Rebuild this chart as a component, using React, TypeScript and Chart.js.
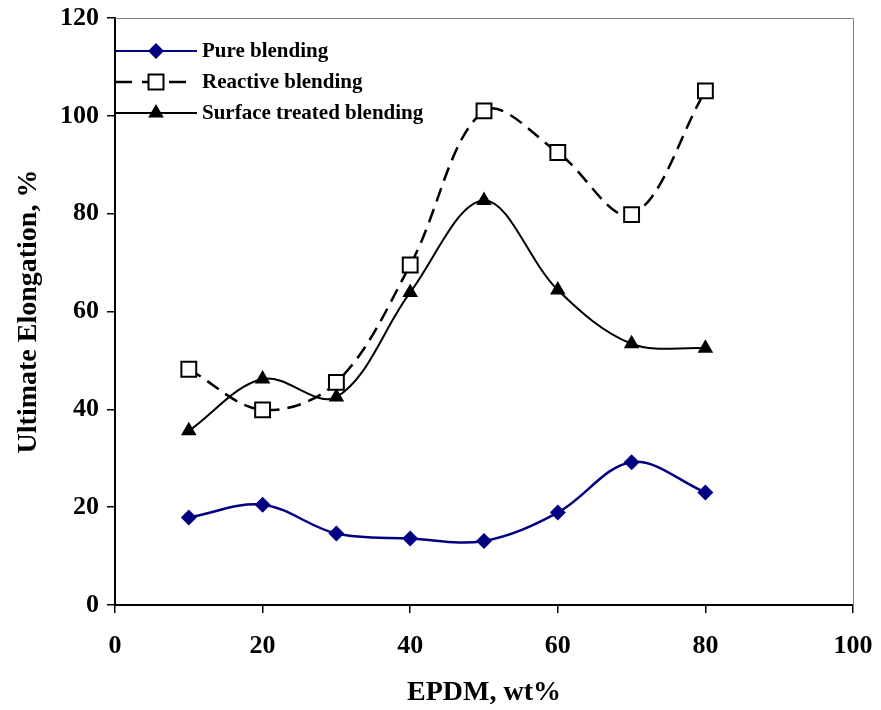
import React, { useEffect, useRef } from 'react';
import { Chart, registerables } from 'chart.js';

Chart.register(...registerables);

const epdmWt = [10, 20, 30, 40, 50, 60, 70, 80];
const pureBlending = [17.9, 20.5, 14.6, 13.6, 13.1, 18.9, 29.2, 23.0];
const reactiveBlending = [48.2, 39.9, 45.5, 69.5, 101.0, 92.5, 79.8, 105.1];
const surfaceTreatedBlending = [35.6, 46.2, 42.5, 63.9, 82.7, 64.4, 53.4, 52.5];
const seriesNames = ['Pure blending', 'Reactive blending', 'Surface treated blending'];
const xTitle = 'EPDM, wt%';
const yTitle = 'Ultimate Elongation, %';

const FONT = "'Liberation Serif', 'Times New Roman', serif";
const NAVY = '#000080';

function drawMarker(ctx: CanvasRenderingContext2D, kind: string, x: number, y: number) {
  ctx.save();
  ctx.setLineDash([]);
  if (kind === 'diamond') {
    const r = 8;
    ctx.fillStyle = NAVY;
    ctx.beginPath();
    ctx.moveTo(x, y - r);
    ctx.lineTo(x + r, y);
    ctx.lineTo(x, y + r);
    ctx.lineTo(x - r, y);
    ctx.closePath();
    ctx.fill();
  } else if (kind === 'square') {
    const h = 7.5;
    ctx.fillStyle = '#ffffff';
    ctx.strokeStyle = '#000000';
    ctx.lineWidth = 2;
    ctx.fillRect(x - h, y - h, 2 * h, 2 * h);
    ctx.strokeRect(x - h, y - h, 2 * h, 2 * h);
  } else {
    const r = 9;
    ctx.fillStyle = '#000000';
    ctx.beginPath();
    ctx.moveTo(x, y - r);
    ctx.lineTo(x + 0.866 * r, y + 0.5 * r);
    ctx.lineTo(x - 0.866 * r, y + 0.5 * r);
    ctx.closePath();
    ctx.fill();
  }
  ctx.restore();
}

const frameAndLegend = {
  id: 'frameAndLegend',
  afterDatasetsDraw(chart: any) {
    const { ctx, chartArea } = chart;
    ctx.save();
    ctx.strokeStyle = '#808080';
    ctx.lineWidth = 1;
    ctx.beginPath();
    ctx.moveTo(chartArea.left, chartArea.top + 0.5);
    ctx.lineTo(chartArea.right + 0.5, chartArea.top + 0.5);
    ctx.lineTo(chartArea.right + 0.5, chartArea.bottom);
    ctx.stroke();

    const rows = [51, 82, 113];
    const kinds = ['diamond', 'square', 'triangle'];
    const x1 = chartArea.left;
    const x2 = chartArea.left + 82;
    const mx = chartArea.left + 41;
    const tx = chartArea.left + 87;
    seriesNames.forEach((name, i) => {
      const y = rows[i];
      ctx.save();
      ctx.beginPath();
      if (i === 0) {
        ctx.strokeStyle = NAVY;
        ctx.lineWidth = 2;
        ctx.setLineDash([]);
      } else if (i === 1) {
        ctx.strokeStyle = '#000000';
        ctx.lineWidth = 2.5;
        ctx.setLineDash([17, 10]);
      } else {
        ctx.strokeStyle = '#000000';
        ctx.lineWidth = 2;
        ctx.setLineDash([]);
      }
      ctx.moveTo(x1, y);
      ctx.lineTo(i === 1 ? x2 - 10 : x2, y);
      ctx.stroke();
      ctx.restore();
      drawMarker(ctx, kinds[i], mx, y);
      ctx.fillStyle = '#000000';
      ctx.font = `bold 21px ${FONT}`;
      ctx.textAlign = 'left';
      ctx.textBaseline = 'middle';
      ctx.fillText(name, tx, y + 1);
    });
    ctx.restore();
  },
};

export default function App() {
  const canvasRef = useRef<HTMLCanvasElement | null>(null);

  useEffect(() => {
    document.body.style.margin = '0';
    const canvas = canvasRef.current;
    if (!canvas) return;
    const toPts = (ys: number[]) => epdmWt.map((x, i) => ({ x, y: ys[i] }));
    const chart = new Chart(canvas, {
      type: 'line',
      data: {
        datasets: [
          {
            label: seriesNames[0],
            data: toPts(pureBlending),
            borderColor: NAVY,
            backgroundColor: NAVY,
            borderWidth: 2.5,
            pointStyle: 'rectRot',
            pointRadius: 8,
            pointBorderWidth: 0,
            pointBackgroundColor: NAVY,
            tension: 0.35,
            fill: false,
          },
          {
            label: seriesNames[1],
            data: toPts(reactiveBlending),
            borderColor: '#000000',
            backgroundColor: '#ffffff',
            borderWidth: 2.5,
            borderDash: [14, 8],
            pointStyle: 'rect',
            pointRadius: 10.5,
            pointBorderWidth: 2,
            pointBorderColor: '#000000',
            pointBackgroundColor: '#ffffff',
            tension: 0.35,
            fill: false,
          },
          {
            label: seriesNames[2],
            data: toPts(surfaceTreatedBlending),
            borderColor: '#000000',
            backgroundColor: '#000000',
            borderWidth: 2,
            pointStyle: 'triangle',
            pointRadius: 9,
            pointBorderWidth: 0,
            pointBackgroundColor: '#000000',
            tension: 0.35,
            fill: false,
          },
        ],
      },
      options: {
        animation: false,
        responsive: false,
        maintainAspectRatio: false,
        layout: { padding: { top: 18, right: 28, left: 0, bottom: 0 } },
        plugins: {
          legend: { display: false },
          tooltip: { enabled: false },
        },
        scales: {
          x: {
            type: 'linear',
            min: 0,
            max: 100,
            ticks: {
              stepSize: 20,
              color: '#000000',
              font: { family: FONT, size: 26, weight: 'bold' },
              padding: 18,
              maxRotation: 0,
            },
            grid: {
              drawOnChartArea: false,
              drawTicks: true,
              tickLength: 8,
              color: '#000000',
              lineWidth: 1.5,
            },
            border: { display: true, color: '#000000', width: 2 },
            title: {
              display: true,
              text: xTitle,
              color: '#000000',
              font: { family: FONT, size: 28, weight: 'bold' },
              padding: { top: 4, bottom: 0 },
            },
            afterFit: (s: any) => {
              s.height = 105;
              s.paddingLeft = 0;
              s.paddingRight = 0;
            },
          },
          y: {
            type: 'linear',
            min: 0,
            max: 120,
            ticks: {
              stepSize: 20,
              color: '#000000',
              font: { family: FONT, size: 26, weight: 'bold' },
              padding: 8,
            },
            grid: {
              drawOnChartArea: false,
              drawTicks: true,
              tickLength: 8,
              color: '#000000',
              lineWidth: 1.5,
            },
            border: { display: true, color: '#000000', width: 2 },
            title: {
              display: true,
              text: yTitle,
              color: '#000000',
              font: { family: FONT, size: 28, weight: 'bold' },
              padding: { top: 12, bottom: 0 },
            },
            afterFit: (s: any) => {
              s.width = 115;
              s.paddingTop = 0;
              s.paddingBottom = 0;
            },
          },
        },
      },
      plugins: [frameAndLegend],
    });
    return () => chart.destroy();
  }, []);

  return (
    <div style={{ position: 'absolute', left: 0, top: 0, width: 881, height: 710, background: '#fff' }}>
      <canvas ref={canvasRef} width={881} height={710} style={{ display: 'block' }} />
    </div>
  );
}
